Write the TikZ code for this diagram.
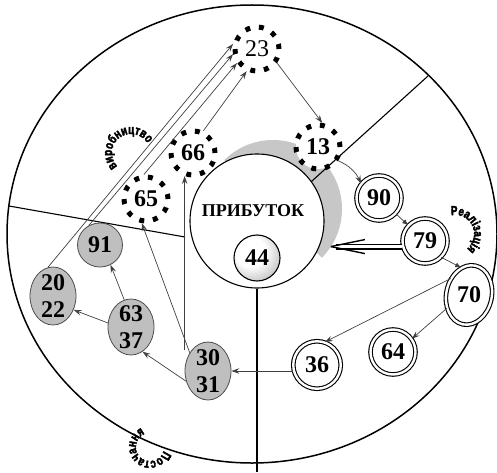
\documentclass[tikz,border=0pt]{standalone}
\usepackage{fontspec}
\setmainfont{Liberation Serif}
\newfontfamily\heavysans{Liberation Sans}[
  UprightFeatures={FakeBold=3,FakeStretch=0.75},
  BoldFeatures={FakeBold=3,FakeStretch=0.75}]
\usetikzlibrary{shapes.geometric,arrows.meta,decorations.text,calc}

\newcommand\digitfont{\fontsize{24}{27}\selectfont\bfseries}
\newcommand\curvefont{\heavysans\bfseries\fontsize{13}{13}\selectfont}

% highlight towards the upper left, grey towards the rim
\pgfdeclareradialshading{softball}{\pgfpoint{-8bp}{8bp}}{%
  color(0bp)=(white); color(16bp)=(white); color(44bp)=(black!38);
  color(100bp)=(black!45)}

\begin{document}
\begin{tikzpicture}[x=1pt,y=1pt,
  conn/.style={draw=black!75, line width=0.7pt,
    -{Stealth[length=8pt,width=5.5pt,inset=3pt]}},
  tri/.style={draw=black!75, line width=0.7pt, -{Latex[length=6pt,width=5pt]}},
  ring/.style={circle, draw=black, fill=white, line width=5pt,
    dash pattern=on 5pt off 8.82pt, minimum size=44pt, inner sep=0pt,
    font=\digitfont},
  dbl/.style={circle, draw=black, double=white, double distance=2.4pt,
    line width=1.1pt, fill=white, inner sep=0pt, minimum size=45pt,
    font=\digitfont},
  grayell/.style={ellipse, draw=black!70, fill=black!25, line width=0.8pt,
    inner sep=0pt, minimum width=46pt, minimum height=58pt},
  inlbl/.style={font=\digitfont, align=center},
  divider/.style={draw=black, line width=1.1pt},
  curved/.style={decorate, decoration={text along path, text align=center,
    text={|\curvefont|#1}}}
]
\useasboundingbox (0,0) rectangle (497,472);

% outer boundary of the cycle
\draw[line width=1.5pt] (252,238) ellipse [x radius=245, y radius=229];

% grey crescent behind the profit circle
\node[circle, minimum size=138pt, inner sep=0pt, outer sep=0pt] (halo) at (273,263) {};
\begin{scope}
  \clip (200,336) -- (350,186) -- (420,186) -- (420,420) -- (200,420) -- cycle;
  \fill[black!22] (halo.center) circle[radius=69];
\end{scope}

% central circle
\node[circle, draw=black, fill=white, line width=1.1pt, minimum size=134pt,
  inner sep=0pt] (core) at (257,251) {};
\node[font=\fontsize{18}{18}\selectfont\bfseries] (title) at (253,261) {ПРИБУТОК};

% sector dividers
\draw[divider] (9,266) -- (185,235);
\draw[divider] (core.south) -- (core.south |- 0,0);

% production sector
\node[ring, font=\fontsize{24}{26}\selectfont] (n23) at (257,423) {23};
\node[ring] (n13) at (318,325) {13};
\node[ring] (n66) at (193,319) {66};
\node[ring] (n65) at (146,273) {65};

% realisation sector
\node[dbl] (n90) at (379,274) {90};
\node[dbl] (n79) at (425,231) {79};
\node[dbl, ellipse, minimum width=45.5pt, minimum height=60pt, rotate=-12] (n70) at (469,177) {};
\node[font=\digitfont] (t70) at (n70.center) {70};
\node[dbl] (n64) at (393,120) {64};
\node[dbl, minimum size=47.5pt] (n36) at (317,107) {36};

% profit
\node[circle, draw=black, line width=1.1pt, minimum size=46pt, inner sep=0pt,
  shade, shading=softball, font=\digitfont] (n44) at (257,214) {44};

% supply sector
\node[grayell, minimum width=45pt, minimum height=44pt] (n91) at (100,227) {};
\node[inlbl] at (n91.center) {91};
\node[grayell] (n2022) at (53,176) {};
\node[inlbl] at (n2022.center) {20\\22};
\node[grayell, minimum height=56pt] (n6337) at (131,145) {};
\node[inlbl] at (n6337.center) {63\\37};
\node[grayell] (n3031) at (208,101) {};
\node[inlbl] at (n3031.center) {30\\31};

\draw[divider] (core.36) -- (428,396);

% flows into 23
\draw[conn] (n2022.100) -- (n23.168);
\draw[conn] (n91.120) -- (n23.192);
\draw[conn] (n65.95) -- (n23.215);
\draw[conn] (n66.65) -- (n23.245);

% production to realisation
\draw[conn] (n23.-35) -- (n13.80);
\draw[conn] (n13.-34) to[bend left=20] (n90.141);
\draw[tri] (n90.-43) -- (n79.137);
\draw[tri] (n79.-45) -- (n70.118);
\draw[conn] (n70.150) -- (n36.71);
\draw[conn] (n70.223) -- (n64.35);

% return of revenue to profit
\coordinate (tip) at (halo.-33);
\draw[double=white, double distance=3.6pt, line width=1.2pt]
  (n79.west |- tip) -- ($(tip)+(5,0)$);
\draw[line width=1.4pt] (tip) -- ++(34,7);
\draw[line width=1.4pt] (tip) -- ++(34,-7);

% supply flows
\draw[conn] (n36.west |- n3031.east) -- (n3031.east);
\draw[conn] (n3031.205) -- (n6337.-65);
\draw[conn] (n3031.135) -- (n65.-100);
\draw[conn] (n66.250 |- n3031.128) -- (n66.250);
\draw[conn] (n6337.104) -- (n91.-62);
\draw[conn] (n6337.170) -- (n2022.-34);

% curved sector captions
\path[curved=виробництво] ($(131,319)+(240:19)$) arc[start angle=240, end angle=15, radius=19];
\path[curved=Реалізація] ($(455,238)+(145:19)$) arc[start angle=145, end angle=-95, radius=19];
\path[curved=Постачання] ($(150,25)+(3:14)$) arc[start angle=3, end angle=-267, radius=14];
\end{tikzpicture}
\end{document}
